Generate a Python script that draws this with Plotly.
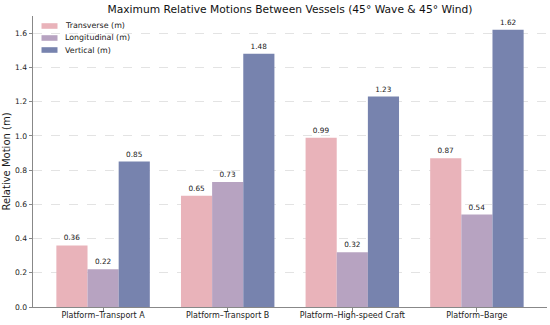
import plotly.graph_objects as go

categories = ["Platform–Transport A", "Platform–Transport B", "Platform–High-speed Craft", "Platform–Barge"]
transverse = [0.36, 0.65, 0.99, 0.87]
longitudinal = [0.22, 0.73, 0.32, 0.54]
vertical = [0.85, 1.48, 1.23, 1.62]
series_names = ["Transverse (m)", "Longitudinal (m)", "Vertical (m)"]
colors = ["#E9B3BA", "#B7A3C1", "#7783AE"]

FONT = "DejaVu Sans"
W, H = 550, 325
ML, MR, MT, MB = 33, 3, 16, 18
fig = go.Figure()
for name, vals, c in zip(series_names, [transverse, longitudinal, vertical], colors):
    fig.add_trace(go.Bar(
        x=categories, y=vals, name=name, marker=dict(color=c, line=dict(width=0)),
        text=[f"{v:.2f}" for v in vals], textposition="outside",
        textfont=dict(family=FONT, size=7.3, color="#1a1a1a"), cliponaxis=False,
        showlegend=False,
    ))

# legend drawn as decoration (compact matplotlib-style)
pw, ph = W - ML - MR, H - MT - MB
for i, (name, c) in enumerate(zip(series_names, colors)):
    yc = 26 + 12 * i
    y0 = 1 - (yc + 2.8 - MT) / ph
    y1 = 1 - (yc - 2.8 - MT) / ph
    x0 = (41.5 - ML) / pw
    x1 = (57.5 - ML) / pw
    fig.add_shape(type="rect", xref="paper", yref="paper", x0=x0, x1=x1, y0=y0, y1=y1,
                  fillcolor=c, line=dict(width=0))
    fig.add_annotation(xref="paper", yref="paper", x=(63 - ML) / pw, y=1 - (yc - MT) / ph,
                       text=name, showarrow=False, xanchor="left", yanchor="middle",
                       font=dict(family=FONT, size=7.9, color="#1a1a1a"))

fig.update_layout(
    width=W, height=H,
    margin=dict(l=ML, r=MR, t=MT, b=MB, autoexpand=False),
    paper_bgcolor="white", plot_bgcolor="white",
    barmode="group", bargap=0.25, bargroupgap=0,
    title=dict(text="Maximum Relative Motions Between Vessels (45° Wave & 45° Wind)",
               x=0.5, xref="paper", y=1 - 9.5 / H, yref="container", yanchor="middle",
               font=dict(family=FONT, size=10.7, color="#111111")),
    font=dict(family=FONT, color="#1a1a1a"),
    showlegend=False,
)
fig.update_xaxes(
    range=[-0.5625, 3.5625], showline=True, linecolor="#888888", linewidth=1,
    ticks="outside", ticklen=3.5, tickcolor="#888888", showgrid=False, automargin=False,
    tickfont=dict(family=FONT, size=8.0, color="#1a1a1a"), ticklabelstandoff=-3,
)
fig.update_yaxes(
    range=[0, 1.701], showline=True, linecolor="#888888", linewidth=1,
    ticks="outside", ticklen=3.5, tickcolor="#888888", automargin=False,
    tickvals=[0, 0.2, 0.4, 0.6, 0.8, 1.0, 1.2, 1.4, 1.6], tickformat=".1f",
    showgrid=True, gridcolor="#e3e3e3", griddash="dash", gridwidth=0.8,
    zeroline=False,
    tickfont=dict(family=FONT, size=7.6, color="#1a1a1a"),
    title=dict(text="Relative Motion (m)", font=dict(family=FONT, size=10), standoff=1.5),
)
fig.write_html("out.html", config={"displayModeBar": False},
               post_script="document.body.style.margin='0';document.body.style.overflow='hidden';")
